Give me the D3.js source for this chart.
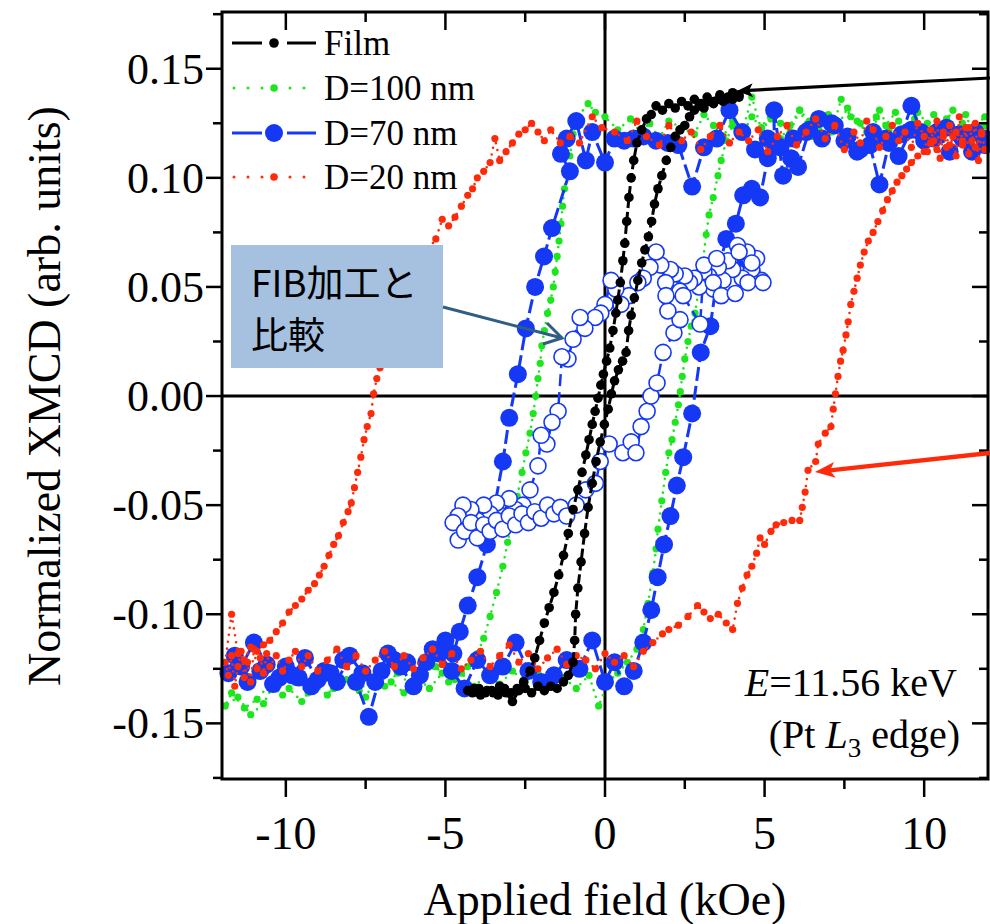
<!DOCTYPE html>
<html><head><meta charset="utf-8">
<script src="https://cdn.jsdelivr.net/npm/d3@7"></script>
<style>body{margin:0;background:#fff}svg{display:block}</style>
</head><body>
<script>
// ---------- DATA (x in kOe, y in arb. units) ----------
const xTicks = [-10, -5, 0, 5, 10];
const yTicks = [-0.15, -0.10, -0.05, 0.00, 0.05, 0.10, 0.15];
const yTickLabels = ["-0.15", "-0.10", "-0.05", "0.00", "0.05", "0.10", "0.15"];
const legendNames = ["Film", "D=100 nm", "D=70 nm", "D=20 nm"];

const film = [[4.2,0.137],[4.0,0.139],[3.8,0.136],[3.6,0.138],[3.4,0.135],[3.2,0.137],[3.0,0.134],[2.8,0.136],[2.6,0.133],[2.4,0.135],[2.2,0.132],[2.0,0.134],[1.8,0.131],[1.6,0.133],[1.45,0.129],[1.3,0.127],[1.15,0.122],[1.0,0.116],[0.9,0.108],[0.82,0.100],[0.75,0.091],[0.68,0.080],[0.62,0.070],[0.56,0.062],[0.48,0.052],[0.4,0.044],[0.34,0.038],[0.25,0.030],[0.15,0.022],[0.05,0.016],[-0.05,0.010],[-0.13,0.005],[-0.22,-0.001],[-0.31,-0.007],[-0.4,-0.013],[-0.5,-0.020],[-0.6,-0.027],[-0.72,-0.035],[-0.85,-0.043],[-1.0,-0.052],[-1.15,-0.063],[-1.3,-0.073],[-1.45,-0.082],[-1.6,-0.090],[-1.75,-0.097],[-1.9,-0.104],[-2.05,-0.112],[-2.2,-0.120],[-2.35,-0.126],[-2.55,-0.131],[-2.75,-0.134],[-2.95,-0.136],[-3.15,-0.134],[-3.35,-0.137],[-3.55,-0.135],[-3.75,-0.136],[-3.95,-0.134],[-4.15,-0.136],[-4.3,-0.135],
[-4.1,-0.134],[-3.9,-0.137],[-3.7,-0.135],[-3.5,-0.136],[-3.3,-0.133],[-3.1,-0.136],[-2.9,-0.140],[-2.7,-0.135],[-2.5,-0.134],[-2.3,-0.136],[-2.1,-0.133],[-1.9,-0.135],[-1.7,-0.133],[-1.5,-0.134],[-1.3,-0.131],[-1.15,-0.128],[-1.0,-0.122],[-0.95,-0.112],[-0.92,-0.100],[-0.85,-0.088],[-0.75,-0.076],[-0.64,-0.063],[-0.53,-0.051],[-0.4,-0.040],[-0.28,-0.030],[-0.15,-0.021],[-0.02,-0.013],[0.1,-0.006],[0.2,0.001],[0.3,0.007],[0.42,0.012],[0.55,0.016],[0.66,0.020],[0.74,0.030],[0.82,0.037],[0.92,0.045],[1.03,0.053],[1.15,0.061],[1.25,0.067],[1.36,0.073],[1.46,0.080],[1.55,0.088],[1.66,0.095],[1.78,0.101],[1.92,0.108],[2.06,0.114],[2.2,0.119],[2.35,0.122],[2.5,0.124],[2.65,0.128],[2.8,0.131],[2.95,0.133],[3.1,0.132],[3.25,0.135],[3.4,0.134],[3.55,0.136],[3.7,0.135],[3.85,0.137],[4.0,0.136],[4.2,0.138]];

const d100 = [[11.9,0.124],[11.6,0.118],[11.3,0.129],[11.0,0.121],[10.7,0.127],[10.4,0.116],[10.1,0.125],[9.8,0.130],[9.5,0.119],[9.2,0.126],[8.9,0.122],[8.6,0.131],[8.3,0.117],[8.0,0.125],[7.7,0.128],[7.4,0.136],[7.1,0.121],[6.8,0.126],[6.5,0.119],[6.1,0.131],[5.8,0.124],[5.5,0.118],[5.2,0.127],[4.9,0.122],[4.6,0.137],[4.3,0.121],[4.0,0.126],[3.7,0.119],[3.4,0.124],[3.1,0.129],[2.8,0.120],[2.4,0.123],[2.0,0.126],[1.7,0.118],[1.4,0.125],[1.1,0.121],[0.8,0.127],[0.4,0.122],[0.0,0.128],[-0.3,0.130],[-0.53,0.134],[-0.85,0.128],[-1.0,0.120],[-1.1,0.110],[-1.2,0.102],[-1.27,0.095],[-1.33,0.087],[-1.38,0.079],[-1.44,0.071],[-1.5,0.064],[-1.56,0.057],[-1.62,0.050],[-1.7,0.044],[-1.8,0.038],[-1.9,0.030],[-1.98,0.023],[-2.03,0.015],[-2.1,0.008],[-2.17,0.000],[-2.25,-0.008],[-2.35,-0.017],[-2.48,-0.026],[-2.6,-0.035],[-2.75,-0.046],[-2.9,-0.056],[-3.05,-0.067],[-3.2,-0.078],[-3.4,-0.090],[-3.6,-0.101],[-3.8,-0.111],[-4.0,-0.118],[-4.3,-0.124],[-4.7,-0.130],[-5.1,-0.127],[-5.5,-0.134],[-5.9,-0.129],[-6.3,-0.136],[-6.7,-0.131],[-7.1,-0.127],[-7.5,-0.138],[-7.9,-0.133],[-8.3,-0.129],[-8.7,-0.137],[-9.1,-0.132],[-9.5,-0.140],[-9.9,-0.134],[-10.3,-0.130],[-10.7,-0.141],[-11.1,-0.146],[-11.5,-0.138],[-11.9,-0.142],
[-11.7,-0.136],[-11.3,-0.143],[-10.9,-0.139],[-10.5,-0.132],[-10.1,-0.137],[-9.7,-0.131],[-9.3,-0.136],[-8.9,-0.128],[-8.5,-0.134],[-8.1,-0.130],[-7.7,-0.135],[-7.3,-0.129],[-6.9,-0.133],[-6.5,-0.127],[-6.1,-0.132],[-5.7,-0.129],[-5.3,-0.124],[-4.9,-0.131],[-4.5,-0.127],[-4.1,-0.133],[-3.7,-0.128],[-3.3,-0.132],[-2.9,-0.126],[-2.5,-0.131],[-2.1,-0.127],[-1.7,-0.133],[-1.3,-0.129],[-0.9,-0.134],[-0.5,-0.128],[-0.2,-0.142],[0.1,-0.131],[0.4,-0.127],[0.7,-0.122],[1.0,-0.116],[1.2,-0.107],[1.35,-0.095],[1.5,-0.081],[1.6,-0.070],[1.66,-0.061],[1.78,-0.048],[1.9,-0.035],[2.0,-0.026],[2.1,-0.020],[2.2,-0.012],[2.3,-0.004],[2.36,0.002],[2.42,0.009],[2.5,0.017],[2.6,0.025],[2.7,0.032],[2.82,0.038],[2.95,0.050],[3.07,0.062],[3.17,0.074],[3.26,0.083],[3.39,0.091],[3.54,0.101],[3.64,0.108],[3.8,0.117],[4.0,0.124],[4.3,0.120],[4.6,0.128],[4.9,0.123],[5.2,0.130],[5.5,0.125],[5.8,0.121],[6.1,0.131],[6.4,0.126],[6.7,0.122],[7.0,0.129],[7.3,0.124],[7.6,0.132],[7.9,0.126],[8.2,0.121],[8.5,0.128],[8.8,0.124],[9.1,0.130],[9.4,0.123],[9.7,0.127],[10.0,0.121],[10.3,0.129],[10.6,0.124],[10.9,0.131],[11.2,0.125],[11.5,0.122],[11.9,0.128]];

const d70 = [[11.9,0.118],[11.5,0.112],[11.1,0.120],[10.7,0.123],[10.3,0.118],[9.9,0.121],[9.6,0.133],[9.3,0.120],[8.9,0.116],[8.6,0.097],[8.3,0.115],[7.9,0.112],[7.5,0.117],[7.1,0.125],[6.7,0.127],[6.3,0.121],[5.9,0.118],[5.5,0.114],[5.1,0.118],[4.7,0.113],[4.3,0.121],[3.9,0.131],[3.5,0.118],[3.1,0.114],[2.73,0.096],[2.3,0.115],[1.97,0.116],[1.6,0.117],[1.2,0.119],[0.9,0.118],[0.6,0.117],[0.3,0.118],[0.0,0.107],[-0.4,0.121],[-0.6,0.108],[-0.9,0.126],[-1.2,0.118],[-1.38,0.111],[-1.1,0.103],[-1.66,0.077],[-1.91,0.064],[-2.19,0.050],[-2.48,0.031],[-2.73,0.010],[-3.0,-0.010],[-3.2,-0.030],[-3.45,-0.050],[-3.7,-0.068],[-4.0,-0.083],[-4.3,-0.096],[-4.55,-0.108],[-4.75,-0.118],[-5.0,-0.112],[-5.4,-0.116],[-5.8,-0.128],[-6.2,-0.122],[-6.6,-0.121],[-7.0,-0.126],[-7.4,-0.147],[-7.8,-0.131],[-8.2,-0.121],[-8.6,-0.127],[-9.0,-0.130],[-9.4,-0.120],[-9.8,-0.128],[-10.2,-0.129],[-10.6,-0.123],[-11.0,-0.113],[-11.4,-0.124],[-11.8,-0.127],
[-11.6,-0.119],[-11.2,-0.131],[-10.8,-0.126],[-10.4,-0.132],[-10.0,-0.124],[-9.6,-0.129],[-9.2,-0.133],[-8.8,-0.126],[-8.4,-0.131],[-8.0,-0.119],[-7.6,-0.127],[-7.2,-0.131],[-6.8,-0.118],[-6.4,-0.124],[-6.0,-0.133],[-5.6,-0.122],[-5.2,-0.118],[-4.8,-0.126],[-4.4,-0.134],[-4.0,-0.121],[-3.6,-0.128],[-3.2,-0.124],[-2.8,-0.113],[-2.4,-0.126],[-2.0,-0.131],[-1.6,-0.128],[-1.2,-0.121],[-0.8,-0.125],[-0.4,-0.112],[0.0,-0.131],[0.3,-0.122],[0.6,-0.133],[0.9,-0.126],[1.2,-0.113],[1.45,-0.098],[1.65,-0.083],[1.85,-0.068],[2.05,-0.055],[2.25,-0.041],[2.45,-0.028],[2.73,-0.008],[3.0,0.020],[3.3,0.032],[3.55,0.058],[3.8,0.072],[4.1,0.079],[4.33,0.092],[4.6,0.095],[4.86,0.091],[5.1,0.109],[5.3,0.116],[5.3,0.131],[5.58,0.101],[5.83,0.109],[6.05,0.105],[6.4,0.122],[6.8,0.118],[7.2,0.124],[7.6,0.119],[8.0,0.113],[8.4,0.121],[8.8,0.118],[9.2,0.110],[9.6,0.122],[10.0,0.117],[10.4,0.121],[10.8,0.112],[11.2,0.118],[11.6,0.121],[11.9,0.115]];

const fib = [[4.9,0.053],[4.75,0.063],[4.6,0.058],[4.45,0.066],[4.3,0.054],[4.15,0.069],[4.0,0.058],[3.85,0.062],[3.7,0.053],[3.55,0.059],[3.4,0.049],[3.25,0.055],[3.1,0.057],[2.95,0.050],[2.8,0.054],[2.65,0.052],[2.5,0.055],[2.35,0.048],[2.2,0.056],[2.05,0.058],[1.9,0.052],[1.75,0.060],[1.6,0.066],[1.41,0.059],[1.2,0.054],[1.03,0.052],[0.75,0.046],[0.5,0.042],[0.34,0.049],[0.19,0.053],[0.0,0.042],[-0.13,0.038],[-0.31,0.036],[-0.63,0.031],[-0.78,0.036],[-1.0,0.026],[-1.16,0.017],[-1.35,0.018],[-1.47,-0.007],[-1.66,-0.012],[-1.82,-0.022],[-2.0,-0.018],[-2.1,-0.032],[-2.35,-0.043],[-2.57,-0.050],[-2.8,-0.052],[-3.0,-0.047],[-3.2,-0.055],[-3.4,-0.049],[-3.6,-0.054],[-3.8,-0.050],[-4.0,-0.057],[-4.2,-0.052],[-4.45,-0.050],[-4.6,-0.055],[-4.76,-0.058],
[-4.6,-0.066],[-4.4,-0.062],[-4.2,-0.058],[-4.0,-0.065],[-3.8,-0.059],[-3.6,-0.062],[-3.4,-0.057],[-3.2,-0.061],[-3.0,-0.055],[-2.8,-0.059],[-2.6,-0.054],[-2.4,-0.058],[-2.2,-0.053],[-2.0,-0.056],[-1.8,-0.050],[-1.6,-0.054],[-1.4,-0.051],[-1.2,-0.055],[-0.9,-0.050],[-0.6,-0.043],[-0.3,-0.040],[-0.15,-0.030],[0.13,-0.022],[0.56,-0.026],[0.82,-0.021],[0.97,-0.026],[1.13,-0.014],[1.32,-0.007],[1.44,0.000],[1.63,0.006],[1.82,0.020],[2.16,0.029],[2.35,0.035],[1.97,0.039],[1.91,0.046],[2.45,0.046],[2.98,0.033],[3.1,0.060],[3.39,0.052],[3.64,0.046],[3.5,0.063],[4.08,0.047],[4.2,0.066],[4.48,0.052],[4.6,0.061],[4.95,0.052]];

const d20 = [[11.9,0.113],[11.8,0.121],[11.7,0.108],[11.6,0.125],[11.5,0.117],[11.4,0.111],[11.3,0.123],[11.2,0.115],[11.1,0.128],[11.0,0.110],[10.9,0.119],[10.8,0.124],[10.7,0.114],[10.6,0.121],[10.5,0.109],[10.4,0.126],[10.3,0.117],[10.2,0.122],[10.1,0.112],[10.0,0.119],[9.8,0.125],[9.6,0.114],[9.4,0.121],[9.2,0.117],[9.0,0.124],[8.8,0.119],[8.6,0.114],[8.4,0.122],[8.2,0.126],[8.0,0.116],[7.8,0.121],[7.5,0.113],[7.2,0.124],[6.9,0.118],[6.6,0.127],[6.3,0.121],[6.0,0.115],[5.7,0.124],[5.4,0.119],[5.1,0.112],[4.8,0.122],[4.5,0.117],[4.2,0.121],[3.9,0.116],[3.6,0.124],[3.3,0.119],[3.0,0.113],[2.7,0.121],[2.4,0.117],[2.0,0.124],[1.7,0.115],[1.3,0.119],[1.0,0.126],[0.7,0.117],[0.3,0.121],[-0.1,0.123],[-0.4,0.128],[-0.8,0.116],[-1.1,0.119],[-1.4,0.116],[-1.7,0.122],[-1.9,0.117],[-2.1,0.121],[-2.3,0.125],[-2.5,0.122],[-2.7,0.120],[-2.9,0.116],[-3.1,0.112],[-3.3,0.108],[-3.45,0.118],[-3.6,0.107],[-3.8,0.103],[-4.0,0.100],[-4.15,0.095],[-4.3,0.092],[-4.5,0.087],[-4.7,0.082],[-4.9,0.078],[-5.1,0.081],[-5.3,0.072],[-5.55,0.067],[-5.7,0.062],[-5.86,0.058],[-6.1,0.052],[-6.3,0.049],[-6.5,0.041],[-6.65,0.037],[-6.8,0.028],[-6.95,0.021],[-7.05,0.013],[-7.15,0.008],[-7.25,0.001],[-7.33,-0.008],[-7.45,-0.014],[-7.55,-0.020],[-7.65,-0.028],[-7.75,-0.035],[-7.85,-0.042],[-7.95,-0.049],[-8.05,-0.053],[-8.2,-0.058],[-8.35,-0.064],[-8.5,-0.068],[-8.65,-0.073],[-8.8,-0.078],[-8.95,-0.082],[-9.1,-0.086],[-9.3,-0.089],[-9.5,-0.093],[-9.7,-0.096],[-9.9,-0.099],[-10.1,-0.104],[-10.3,-0.108],[-10.5,-0.112],[-10.7,-0.114],[-10.9,-0.117],[-11.1,-0.115],[-11.3,-0.121],[-11.5,-0.118],[-11.7,-0.100],[-11.9,-0.122],
[-11.8,-0.128],[-11.7,-0.119],[-11.6,-0.133],[-11.5,-0.124],[-11.4,-0.117],[-11.3,-0.129],[-11.2,-0.122],[-11.1,-0.131],[-11.0,-0.116],[-10.9,-0.125],[-10.8,-0.120],[-10.7,-0.127],[-10.6,-0.118],[-10.5,-0.124],[-10.3,-0.119],[-10.1,-0.126],[-9.9,-0.121],[-9.7,-0.117],[-9.5,-0.124],[-9.3,-0.119],[-9.0,-0.126],[-8.7,-0.121],[-8.4,-0.116],[-8.1,-0.124],[-7.8,-0.119],[-7.5,-0.126],[-7.2,-0.121],[-6.9,-0.117],[-6.6,-0.124],[-6.3,-0.119],[-6.0,-0.125],[-5.7,-0.120],[-5.4,-0.116],[-5.1,-0.123],[-4.8,-0.118],[-4.5,-0.125],[-4.2,-0.121],[-3.9,-0.117],[-3.6,-0.124],[-3.3,-0.119],[-3.0,-0.114],[-2.7,-0.122],[-2.4,-0.118],[-2.1,-0.125],[-1.8,-0.120],[-1.5,-0.116],[-1.2,-0.123],[-0.9,-0.119],[-0.6,-0.121],[-0.3,-0.125],[0.0,-0.118],[0.3,-0.122],[0.6,-0.119],[0.9,-0.124],[1.2,-0.117],[1.5,-0.113],[1.8,-0.109],[2.0,-0.107],[2.3,-0.105],[2.6,-0.101],[2.9,-0.096],[3.1,-0.099],[3.3,-0.102],[3.55,-0.100],[3.8,-0.104],[4.0,-0.107],[4.15,-0.095],[4.3,-0.088],[4.45,-0.082],[4.6,-0.078],[4.75,-0.072],[4.86,-0.065],[5.0,-0.068],[5.2,-0.062],[5.36,-0.059],[5.6,-0.058],[5.86,-0.057],[6.1,-0.057],[6.18,-0.051],[6.27,-0.044],[6.36,-0.034],[6.6,-0.030],[6.68,-0.022],[6.9,-0.017],[7.08,-0.014],[7.15,-0.006],[7.22,0.001],[7.3,0.009],[7.38,0.016],[7.46,0.021],[7.55,0.028],[7.62,0.034],[7.7,0.042],[7.8,0.048],[7.9,0.054],[8.0,0.060],[8.12,0.066],[8.25,0.071],[8.4,0.075],[8.55,0.080],[8.7,0.085],[8.85,0.090],[9.0,0.094],[9.15,0.098],[9.3,0.101],[9.45,0.104],[9.6,0.107],[9.8,0.110],[10.0,0.112],[10.2,0.116],[10.4,0.113],[10.6,0.119],[10.8,0.115],[11.0,0.121],[11.2,0.117],[11.4,0.123],[11.6,0.114],[11.8,0.120]];

// ---------- LAYOUT ----------
const W = 990, H = 924;
const M = {left: 222, top: 12, right: 2, bottom: 145};
const svg = d3.select("body").append("svg").attr("width", W).attr("height", H);
const x = d3.scaleLinear().domain([-12, 12]).range([M.left, W - M.right]);
const y = d3.scaleLinear().domain([-0.1755, 0.176]).range([H - M.bottom, M.top]);
const x0 = M.left, x1 = W - M.right, y0 = H - M.bottom, y1 = M.top;

const serif = "'Liberation Serif','Times New Roman',serif";
const C = {film: "#000000", d100: "#1ee61e", d70: "#1438f5", d20: "#ff2a0a"};

// zero lines
svg.append("line").attr("x1", x0).attr("x2", x1).attr("y1", y(0)).attr("y2", y(0)).attr("stroke", "#000").attr("stroke-width", 3);
svg.append("line").attr("x1", x(0)).attr("x2", x(0)).attr("y1", y0).attr("y2", y1).attr("stroke", "#000").attr("stroke-width", 3);

const line = d3.line().x(d => x(d[0])).y(d => y(d[1]));
const g = svg.append("g");

function dotted(data, color, r) {
  g.append("path").attr("d", line(data)).attr("fill", "none").attr("stroke", color)
    .attr("stroke-width", 2.6).attr("stroke-linecap", "round").attr("stroke-dasharray", "0 7");
  g.append("g").selectAll("circle").data(data).join("circle")
    .attr("cx", d => x(d[0])).attr("cy", d => y(d[1])).attr("r", r).attr("fill", color);
}
dotted(d100, C.d100, 3.6);

// D=70 filled
g.append("path").attr("d", line(d70)).attr("fill", "none").attr("stroke", C.d70)
  .attr("stroke-width", 3).attr("stroke-dasharray", "14 5");
g.append("g").selectAll("circle").data(d70).join("circle")
  .attr("cx", d => x(d[0])).attr("cy", d => y(d[1])).attr("r", 9).attr("fill", C.d70);

// FIB hollow
g.append("path").attr("d", line(fib)).attr("fill", "none").attr("stroke", C.d70)
  .attr("stroke-width", 2.5).attr("stroke-dasharray", "12 6");
g.append("g").selectAll("circle").data(fib).join("circle")
  .attr("cx", d => x(d[0])).attr("cy", d => y(d[1])).attr("r", 8).attr("fill", "#fff")
  .attr("stroke", C.d70).attr("stroke-width", 1.6);

dotted(d20, C.d20, 3.6);

// Film
g.append("path").attr("d", line(film)).attr("fill", "none").attr("stroke", C.film)
  .attr("stroke-width", 3).attr("stroke-dasharray", "9 4");
g.append("g").selectAll("circle").data(film).join("circle")
  .attr("cx", d => x(d[0])).attr("cy", d => y(d[1])).attr("r", 4.8).attr("fill", C.film);

// ---------- FRAME & AXES ----------
svg.append("rect").attr("x", x0).attr("y", y1).attr("width", x1 - x0).attr("height", y0 - y1)
  .attr("fill", "none").attr("stroke", "#000").attr("stroke-width", 3);

const xMinor = d3.range(-12.5, 12.51, 2.5).filter(v => v > -12 && v < 12);
const yMinor = d3.range(-0.175, 0.1751, 0.025).filter(v => v > -0.1755 && v < 0.176);
const isMajX = v => Math.abs(v / 5 - Math.round(v / 5)) < 1e-6;
const isMajY = v => Math.abs(v / 0.05 - Math.round(v / 0.05)) < 1e-6;
const tk = svg.append("g").attr("stroke", "#000").attr("stroke-width", 2.5);
xMinor.forEach(v => {
  const L = isMajX(v) ? 18 : 10;
  tk.append("line").attr("x1", x(v)).attr("x2", x(v)).attr("y1", y0).attr("y2", y0 + L);
  tk.append("line").attr("x1", x(v)).attr("x2", x(v)).attr("y1", y1).attr("y2", y1 + L);
});
yMinor.forEach(v => {
  const L = isMajY(v) ? 16 : 9;
  tk.append("line").attr("y1", y(v)).attr("y2", y(v)).attr("x1", x0).attr("x2", x0 - L);
  tk.append("line").attr("y1", y(v)).attr("y2", y(v)).attr("x1", x1).attr("x2", x1 - L);
});

svg.append("g").selectAll("text").data(xTicks).join("text")
  .attr("x", d => x(d)).attr("y", y0 + 70).attr("text-anchor", "middle")
  .attr("font-family", serif).attr("font-size", 46).text(d => d);
svg.append("g").selectAll("text").data(yTicks).join("text")
  .attr("x", x0 - 18).attr("y", d => y(d) + 15).attr("text-anchor", "end")
  .attr("font-family", serif).attr("font-size", 44).text((d, i) => yTickLabels[i]);

svg.append("text").attr("x", x(0)).attr("y", 915).attr("text-anchor", "middle")
  .attr("font-family", serif).attr("font-size", 46).text("Applied field (kOe)");
svg.append("text").attr("transform", `translate(60,${y(0)}) rotate(-90)`).attr("text-anchor", "middle")
  .attr("font-family", serif).attr("font-size", 46).text("Normalized XMCD (arb. units)");

// ---------- LEGEND ----------
const lg = svg.append("g");
const ly = [43, 88, 133, 177];
const lx0 = 232, lx1 = 316, lm = 274;
lg.append("line").attr("x1", lx0).attr("x2", 262).attr("y1", ly[0]).attr("y2", ly[0]).attr("stroke", C.film).attr("stroke-width", 3);
lg.append("line").attr("x1", 287).attr("x2", lx1).attr("y1", ly[0]).attr("y2", ly[0]).attr("stroke", C.film).attr("stroke-width", 3);
lg.append("circle").attr("cx", lm).attr("cy", ly[0]).attr("r", 4.8).attr("fill", C.film);
lg.append("line").attr("x1", lx0 + 2).attr("x2", lx1).attr("y1", ly[1]).attr("y2", ly[1]).attr("stroke", C.d100)
  .attr("stroke-width", 3).attr("stroke-linecap", "round").attr("stroke-dasharray", "0 14");
lg.append("circle").attr("cx", lm).attr("cy", ly[1]).attr("r", 3.8).attr("fill", C.d100);
lg.append("line").attr("x1", lx0).attr("x2", 262).attr("y1", ly[2]).attr("y2", ly[2]).attr("stroke", C.d70).attr("stroke-width", 3);
lg.append("line").attr("x1", 287).attr("x2", lx1).attr("y1", ly[2]).attr("y2", ly[2]).attr("stroke", C.d70).attr("stroke-width", 3);
lg.append("circle").attr("cx", lm).attr("cy", ly[2]).attr("r", 9).attr("fill", C.d70);
lg.append("line").attr("x1", lx0 + 2).attr("x2", lx1).attr("y1", ly[3]).attr("y2", ly[3]).attr("stroke", C.d20)
  .attr("stroke-width", 3).attr("stroke-linecap", "round").attr("stroke-dasharray", "0 14");
lg.append("circle").attr("cx", lm).attr("cy", ly[3]).attr("r", 3.8).attr("fill", C.d20);
lg.selectAll("text.l").data(legendNames).join("text").attr("class", "l")
  .attr("x", 324).attr("y", (d, i) => ly[i] + 12).attr("font-family", serif).attr("font-size", 35).text(d => d);

// ---------- ANNOTATIONS ----------
function arrow(xs, ys, xt, yt, len, hw, notch, color, sw) {
  const a = Math.atan2(yt - ys, xt - xs), c = Math.cos(a), s = Math.sin(a);
  const bx = xt - len * c, by = yt - len * s;
  const nx = xt - (len - notch) * c, ny = yt - (len - notch) * s;
  svg.append("line").attr("x1", xs).attr("y1", ys).attr("x2", nx).attr("y2", ny)
    .attr("stroke", color).attr("stroke-width", sw);
  svg.append("path").attr("fill", color).attr("d",
    `M${xt},${yt} L${bx - hw * s},${by + hw * c} L${nx},${ny} L${bx + hw * s},${by - hw * c} Z`);
}
arrow(990, 78, 737, 91, 16, 7, 4, "#000", 3.2);
arrow(990, 453, 815, 472, 20, 8, 5, "#ff2a0a", 4.5);

// FIB box
svg.append("rect").attr("x", 231).attr("y", 245).attr("width", 212).attr("height", 123).attr("fill", "#a5c1df");
svg.append("text").attr("x", 251).attr("y", 297).attr("font-family", "'Noto Sans CJK JP','Noto Sans',sans-serif")
  .attr("font-size", 37).text("FIB加工と");
svg.append("text").attr("x", 251).attr("y", 349).attr("font-family", "'Noto Sans CJK JP','Noto Sans',sans-serif")
  .attr("font-size", 37).text("比較");
const ac = "#2f5d84";
svg.append("line").attr("x1", 443).attr("y1", 307).attr("x2", 562).attr("y2", 338).attr("stroke", ac).attr("stroke-width", 3);
svg.append("path").attr("d", "M547,323 L562,338 L543,344").attr("fill", "none").attr("stroke", ac).attr("stroke-width", 3);

// energy text
const et = svg.append("text").attr("x", 957).attr("y", 696).attr("text-anchor", "end").attr("font-family", serif).attr("font-size", 40);
et.append("tspan").attr("font-style", "italic").text("E");
et.append("tspan").text("=11.56 keV");
const pt = svg.append("text").attr("x", 960).attr("y", 748).attr("text-anchor", "end").attr("font-family", serif).attr("font-size", 40);
pt.append("tspan").text("(Pt ");
pt.append("tspan").attr("font-style", "italic").text("L");
pt.append("tspan").attr("font-size", 27).attr("dy", 9).text("3");
pt.append("tspan").attr("dy", -9).text(" edge)");
</script>
</body></html>
